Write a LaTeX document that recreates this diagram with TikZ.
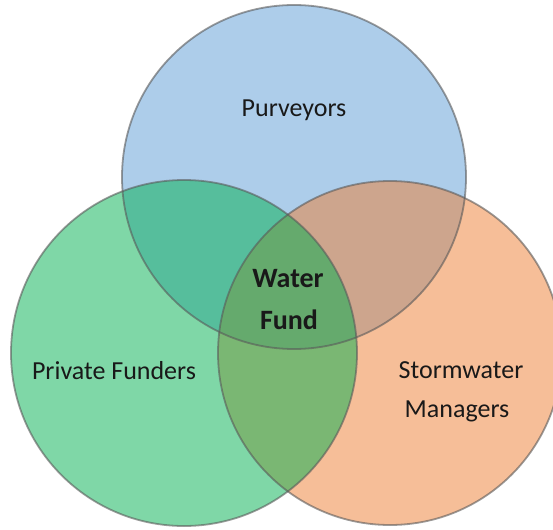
\documentclass[tikz,border=0pt]{standalone}
\usepackage{fontspec}
\setmainfont{Carlito}
\begin{document}
\begin{tikzpicture}[x=1pt,y=-1pt,
  setfill/.style={fill=#1, fill opacity=0.5},
  ring/.style={draw=black!65, draw opacity=0.6, line width=1.8pt},
  label/.style={text=black!90, inner sep=0pt, anchor=base, font=\fontsize{26}{39}\selectfont},
  boldlabel/.style={label, font=\fontsize{28}{42}\selectfont\bfseries}]
  \definecolor{pblue}{HTML}{5B9BD5}
  \definecolor{porange}{HTML}{ED7D31}
  \definecolor{pgreen}{HTML}{00B050}
  \useasboundingbox (0,0) rectangle (553,529);
  \clip (0,0) rectangle (553,529);

  % three overlapping sets, drawn back to front
  \coordinate (cb) at (294,177);
  \coordinate (co) at (390,353);
  \coordinate (cg) at (184,353);
  \path[setfill=pblue] (cb) circle[radius=172pt];
  \path[setfill=porange] (co) circle[radius=172pt];
  \path[setfill=pgreen] (cg) circle[radius=173pt];
  \draw[ring] (cb) circle[radius=172pt];
  \draw[ring] (co) circle[radius=172pt];
  \draw[ring] (cg) circle[radius=173pt];

  % set names
  \node[label] (purv) at (294,117) {Purveyors};
  \node[label] (priv) at (114,379) {Private Funders};
  \node[label] (storm) at (461,378) {Stormwater};
  \node[label] (mgr) at (457,417) {Managers};
  \node[boldlabel] (water) at (288,287) {Water};
  \node[boldlabel] (fund) at (289,329) {Fund};
\end{tikzpicture}
\end{document}
